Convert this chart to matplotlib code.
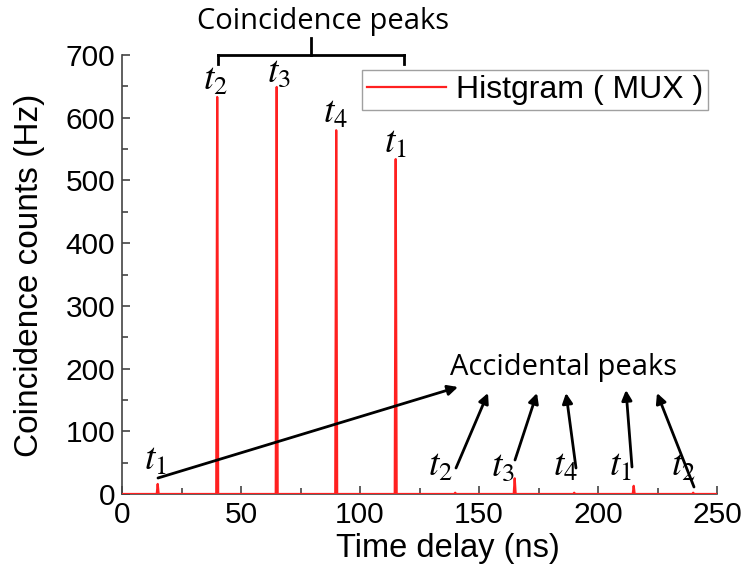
import matplotlib
matplotlib.use("Agg")
import matplotlib.pyplot as plt
from matplotlib.lines import Line2D
import numpy as np

# ---- data ----
peak_times = [15, 40, 65, 90, 115, 140, 165, 190, 215, 240]
peak_counts = [16, 633, 649, 580, 534, 2, 25, 2, 13, 2]
peak_labels = ["1", "2", "3", "4", "1", "2", "3", "4", "1", "2"]
x_ticks = [0, 50, 100, 150, 200, 250]
y_ticks = [0, 100, 200, 300, 400, 500, 600, 700]

plt.rcParams['mathtext.fontset'] = 'stix'
W, H = 746, 572
fig = plt.figure(figsize=(W / 100, H / 100), dpi=100)
L, R, T, B = 122, 717, 55, 494
ax = fig.add_axes([L / W, 1 - B / H, (R - L) / W, (B - T) / H])

# build histogram trace from peaks
xs, ys = [0], [0]
for t, c in zip(peak_times, peak_counts):
    xs += [t - 0.4, t, t + 0.4]
    ys += [0, c, 0]
xs.append(250); ys.append(0)
ax.plot(xs, ys, color='#ff2020', lw=1.6, label='Histgram ( MUX )', zorder=3)

ax.set_xlim(0, 250)
ax.set_ylim(0, 700)
ax.set_xticks(x_ticks)
ax.set_yticks(y_ticks)
ax.set_xticks(np.arange(25, 250, 50), minor=True)
ax.set_yticks(np.arange(50, 700, 100), minor=True)
for s in ['top', 'right']:
    ax.spines[s].set_visible(False)
for s in ['left', 'bottom']:
    ax.spines[s].set_color('#444444')
    ax.spines[s].set_linewidth(1.2)
ax.tick_params(which='both', direction='in', color='#444444', width=1.2)
ax.tick_params(which='major', length=6, labelsize=21.5, pad=5)
ax.tick_params(which='minor', length=4)
for lab in ax.get_xticklabels() + ax.get_yticklabels():
    lab.set_family('Liberation Sans')

fig.text(448 / W, 1 - 548 / H, 'Time delay (ns)', ha='center', va='center',
         fontsize=23.5, family='Liberation Sans')
fig.text(30 / W, 1 - 275 / H, 'Coincidence counts (Hz)', ha='center', va='center',
         rotation=90, fontsize=24, family='Liberation Sans')

leg = ax.legend(loc='upper right', bbox_to_anchor=((708 - L) / (R - L), (B - 70) / (B - T)),
                prop={'family': 'Liberation Sans', 'size': 23},
                frameon=True, fancybox=False, handlelength=2.5, handletextpad=0.3,
                borderpad=0.15, borderaxespad=0)
leg.get_frame().set_edgecolor('#888888')
leg.get_frame().set_linewidth(1.0)

# pixel helpers
def fx(px):
    return px / W
def fy(py):
    return 1 - py / H

# coincidence bracket
for (x0, y0, x1, y1) in [(218, 55, 404, 55), (218, 55, 218, 64), (404, 55, 404, 64), (311, 55, 311, 38)]:
    fig.add_artist(Line2D([fx(x0), fx(x1)], [fy(y0), fy(y1)], color='black', lw=2))
fig.text(fx(323), fy(21), 'Coincidence peaks', ha='center', va='center', fontsize=21, family='Open Sans')
fig.text(fx(564), fy(368), 'Accidental peaks', ha='center', va='center', fontsize=21, family='Open Sans')

# t labels (pixel positions)
t_pos = [(155, 460), (215, 80), (279, 72), (335, 113), (395, 143),
         (440, 466), (503, 466), (565, 466), (620, 466), (683, 466)]
for (px, py), lbl in zip(t_pos, peak_labels):
    fig.text(fx(px), fy(py), r'$t_{%s}$' % lbl, ha='center', va='center', fontsize=27)

# arrows (pixel tail -> head)
arrows = [((158, 478), (458, 387)), ((456, 468), (488, 393)), ((515, 460), (537, 393)),
          ((576, 468), (566, 393)), ((632, 467), (626, 390)), ((694, 487), (657, 393))]
for (tx, ty), (hx, hy) in arrows:
    ax.annotate('', xy=(fx(hx), fy(hy)), xytext=(fx(tx), fy(ty)),
                xycoords='figure fraction', textcoords='figure fraction',
                arrowprops=dict(arrowstyle='-|>', color='black', lw=2,
                                mutation_scale=15, shrinkA=0, shrinkB=0))

fig.savefig('out.png', dpi=100)
